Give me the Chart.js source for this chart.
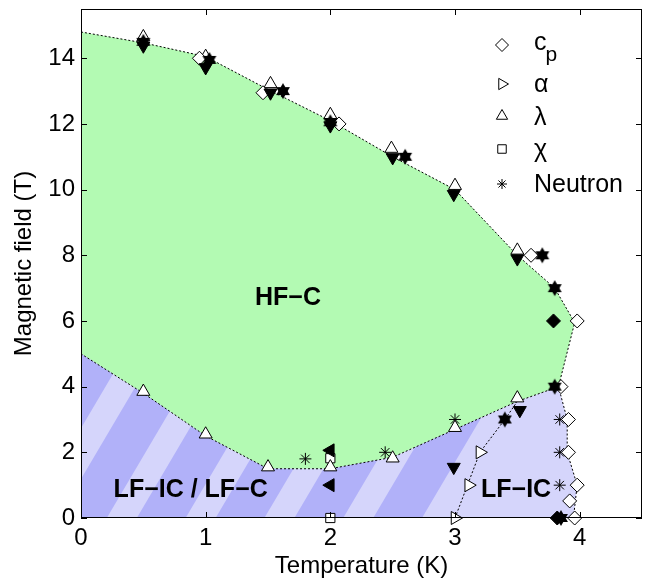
<!DOCTYPE html>
<html>
<head>
<meta charset="utf-8">
<script src="https://cdn.jsdelivr.net/npm/chart.js@4/dist/chart.umd.min.js"></script>
<style>
  html,body{margin:0;padding:0;background:#fff}
  #wrap{width:651px;height:579px}
</style>
</head>
<body>
<div id="wrap"><canvas id="chart" width="651" height="579"></canvas></div>
<script>
const FONT = '"Liberation Sans", Arial, Helvetica, sans-serif';

// axis ticks
const xTicks = [0, 1, 2, 3, 4];
const yTicks = [0, 2, 4, 6, 8, 10, 12, 14];

// phase boundaries (T in K, field in T)
const upperT = [0, 0.5, 1, 1.5, 2, 2.5, 3, 3.5, 3.8, 3.96, 3.83];
const upperB = [14.8, 14.47, 14.05, 13.05, 12.1, 11.0, 10.0, 8.0, 7.0, 5.95, 4.0];
const lowerT = [3.83, 3.5, 3.0, 2.5, 2.0, 1.5, 1.0, 0.5, 0];
const lowerB = [4.0, 3.55, 2.7, 1.85, 1.5, 1.5, 2.5, 3.8, 5.0];
const icLeftT = [3.0, 3.1, 3.2, 3.4, 3.5];
const icLeftB = [0, 1, 2, 3, 3.55];
const icRightT = [3.83, 3.9, 3.9, 3.98, 3.95];
const icRightB = [4, 3, 2, 1, 0];

// open symbols (legend)
const cpT = [0.95, 1.46, 2.07, 3.61, 3.98, 3.85, 3.91, 3.91, 3.98, 3.92, 3.96];
const cpB = [14.0, 12.95, 12.0, 8.0, 6.0, 4.0, 3.0, 2.0, 1.0, 0.52, 0];
const alphaT = [3.0, 3.11, 3.2];
const alphaB = [0, 1.0, 2.0];
const lambdaT = [0.5, 1.0, 1.5, 2.0, 2.5, 3.0, 3.5, 0.5, 1.0, 1.52, 2.0, 2.49, 3.0, 3.5];
const lambdaB = [3.85, 2.55, 1.55, 1.55, 1.82, 2.75, 3.65, 14.65, 14.05, 13.22, 12.28, 11.25, 10.12, 8.15];
const chiT = [2.0, 2.0];
const chiB = [1.82, 0];
const neutronT = [1.8, 2.44, 3.0, 3.84, 3.84, 3.84];
const neutronB = [1.8, 2.0, 3.0, 3.0, 2.0, 1.0];

// filled symbols
const downT = [0.5, 1.0, 1.52, 2.0, 2.5, 2.99, 3.5, 2.99, 3.52];
const downB = [14.38, 13.72, 12.95, 11.95, 10.98, 9.86, 7.9, 1.55, 3.28];
const leftT = [2.0, 2.0];
const leftB = [2.06, 1.0];
const diamT = [3.79, 3.82];
const diamB = [6.0, 0];
const hexT = [0.5, 1.03, 1.62, 2.0, 2.6, 3.7, 3.8, 3.8, 3.4, 3.85];
const hexB = [14.5, 13.95, 13.0, 12.05, 11.0, 8.0, 7.0, 4.0, 3.0, 0];

const pts = (T, B) => T.map((t, i) => ({x: t, y: B[i]}));

function hexagram(r){
  const s = Math.ceil(2*r + 2);
  const c = document.createElement('canvas');
  c.width = c.height = s;
  const g = c.getContext('2d');
  g.fillStyle = '#000';
  [0, Math.PI].forEach(rot => {
    g.beginPath();
    for (let i = 0; i < 3; i++) {
      const a = rot + i*2*Math.PI/3;
      const X = s/2 + Math.sin(a)*r, Y = s/2 - Math.cos(a)*r;
      i ? g.lineTo(X, Y) : g.moveTo(X, Y);
    }
    g.closePath(); g.fill();
  });
  return c;
}

function marks(T, B, style, r, rot, fill, order){
  return {
    data: pts(T, B), showLine:false, order, clip:false,
    pointStyle: style, pointRadius: r, pointHoverRadius: r, pointRotation: rot||0,
    pointBackgroundColor: fill, pointBorderColor:'#000', pointBorderWidth:1
  };
}
function boundary(T, B){
  return { data: pts(T, B), showLine:true, borderColor:'#000', borderWidth:1,
           borderDash:[2,2], pointRadius:0, fill:false, order:10 };
}

const phases = {
  id:'phases',
  beforeDatasetsDraw(chart){
    const {ctx, chartArea:a, scales:{x, y}} = chart;
    const P = (t, b) => [x.getPixelForValue(t), y.getPixelForValue(b)];
    const path = list => {
      ctx.beginPath();
      list.forEach((p, i) => { const [X, Y] = P(p[0], p[1]); i ? ctx.lineTo(X, Y) : ctx.moveTo(X, Y); });
      ctx.closePath();
    };
    const green = pts(upperT, upperB).concat(pts(lowerT, lowerB)).map(p => [p.x, p.y]);
    const low = [[0, 0]]
      .concat(pts(icRightT, icRightB).reverse().map(p => [p.x, p.y]))
      .concat(pts(lowerT, lowerB).slice(1).map(p => [p.x, p.y]));
    ctx.save();
    ctx.beginPath(); ctx.rect(a.left, a.top, a.width, a.height); ctx.clip();
    ctx.fillStyle = '#b3fab3'; path(green); ctx.fill();
    ctx.fillStyle = '#d5d5fb'; path(low); ctx.fill();
    // diagonal hatch of the LF-IC / LF-C area
    path(low); ctx.clip();
    ctx.fillStyle = '#b1b1f9';
    const s = 0.59, H = a.bottom - a.top, per = 78.8, l0 = a.left - 53;
    for (let k = 0; k < 6; k++) {
      const b = l0 + k*per, f = b - 48.8;
      ctx.beginPath();
      ctx.moveTo(f, a.bottom); ctx.lineTo(b, a.bottom);
      ctx.lineTo(b + s*H, a.top); ctx.lineTo(f + s*H, a.top);
      ctx.closePath(); ctx.fill();
    }
    ctx.restore();
  },
  afterDatasetsDraw(chart){
    const {ctx, chartArea:a, scales:{x, y}} = chart;
    ctx.save();
    ctx.strokeStyle = '#000'; ctx.lineWidth = 1;
    ctx.strokeRect(a.left + 0.5, a.top + 0.5, a.width - 1, a.height - 1);
    ctx.beginPath();
    xTicks.forEach(v => {
      const X = Math.round(x.getPixelForValue(v)) + 0.5;
      ctx.moveTo(X, a.bottom); ctx.lineTo(X, a.bottom - 6);
      ctx.moveTo(X, a.top); ctx.lineTo(X, a.top + 6);
    });
    yTicks.forEach(v => {
      const Y = Math.round(y.getPixelForValue(v)) + 0.5;
      ctx.moveTo(a.left, Y); ctx.lineTo(a.left + 6, Y);
      ctx.moveTo(a.right, Y); ctx.lineTo(a.right - 6, Y);
    });
    ctx.stroke();

    ctx.fillStyle = '#000';
    ctx.font = 'bold 25px ' + FONT;
    ctx.textAlign = 'center'; ctx.textBaseline = 'middle';
    ctx.fillText('HF\u2212C', x.getPixelForValue(1.66), y.getPixelForValue(6.7));
    ctx.fillText('LF\u2212IC / LF\u2212C', x.getPixelForValue(0.88), y.getPixelForValue(0.85));
    ctx.fillText('LF\u2212IC', x.getPixelForValue(3.49), y.getPixelForValue(0.85));

    // legend
    const mx = a.right - 140, lx = a.right - 108;
    const rows = [
      {style:'rectRot', r:6.5, rot:0, cy:36},
      {style:'triangle', r:6.5, rot:90, cy:75},
      {style:'triangle', r:6.5, rot:0, cy:107},
      {style:'rect', r:6, rot:0, cy:140},
      {style:'star', r:5, rot:0, cy:175}
    ];
    rows.forEach(o => {
      ctx.fillStyle = '#fff'; ctx.strokeStyle = '#000'; ctx.lineWidth = 1;
      Chart.helpers.drawPoint(ctx, {pointStyle:o.style, radius:o.r, rotation:o.rot, borderWidth:1}, mx, a.top + o.cy);
    });
    ctx.fillStyle = '#000';
    ctx.textAlign = 'left'; ctx.textBaseline = 'alphabetic';
    ctx.font = '25px ' + FONT;
    ctx.fillText('c', lx, a.top + 41);
    const cw = ctx.measureText('c').width;
    ctx.font = '21px ' + FONT;
    ctx.fillText('p', lx + cw - 1, a.top + 52);
    ctx.font = '25px ' + FONT;
    ctx.fillText('\u03b1', lx, a.top + 83);
    ctx.fillText('\u03bb', lx, a.top + 116);
    ctx.fillText('\u03c7', lx, a.top + 148);
    ctx.fillText('Neutron', lx, a.top + 183);
    ctx.restore();
  }
};

const hex = hexagram(8);

new Chart(document.getElementById('chart').getContext('2d'), {
  type:'scatter',
  data:{ datasets:[
    marks(hexT, hexB, hex, 8, 0, '#000', 1),
    marks(downT, downB, 'triangle', 7.5, 180, '#000', 1),
    marks(leftT, leftB, 'triangle', 7.5, 270, '#000', 1),
    marks(diamT, diamB, 'rectRot', 7, 0, '#000', 1),
    marks(cpT, cpB, 'rectRot', 7, 0, '#fff', 2),
    marks(alphaT, alphaB, 'triangle', 7.5, 90, '#fff', 2),
    marks(lambdaT, lambdaB, 'triangle', 7.5, 0, '#fff', 2),
    marks(chiT, chiB, 'rect', 6.5, 0, '#fff', 2),
    marks(neutronT, neutronB, 'star', 6, 0, '#fff', 2),
    boundary(upperT, upperB),
    boundary(lowerT, lowerB),
    boundary(icLeftT, icLeftB),
    boundary(icRightT, icRightB)
  ]},
  options:{
    responsive:false, animation:false,
    layout:{ padding:{left:0, right:3, top:7, bottom:0} },
    plugins:{ legend:{display:false}, tooltip:{enabled:false} },
    scales:{
      x:{
        type:'linear', min:0, max:4.5,
        afterBuildTicks: s => { s.ticks = xTicks.map(v => ({value:v})); },
        afterFit: s => { s.height = 61; s.paddingLeft = 0; s.paddingRight = 0; },
        grid:{display:false, drawTicks:false}, border:{display:false},
        ticks:{ color:'#000', padding:6, font:{family:FONT, size:24} },
        title:{ display:true, text:'Temperature (K)', color:'#000',
                font:{family:FONT, size:24, lineHeight:1}, padding:{top:0, bottom:1} }
      },
      y:{
        type:'linear', min:0, max:15.5,
        afterBuildTicks: s => { s.ticks = yTicks.map(v => ({value:v})); },
        afterFit: s => { s.width = 81; s.paddingTop = 0; s.paddingBottom = 0; },
        grid:{display:false, drawTicks:false}, border:{display:false},
        ticks:{ color:'#000', padding:6, font:{family:FONT, size:24} },
        title:{ display:true, text:'Magnetic field (T)', color:'#000',
                font:{family:FONT, size:24, lineHeight:1}, padding:{top:12, bottom:0} }
      }
    }
  },
  plugins:[phases]
});
</script>
</body>
</html>
